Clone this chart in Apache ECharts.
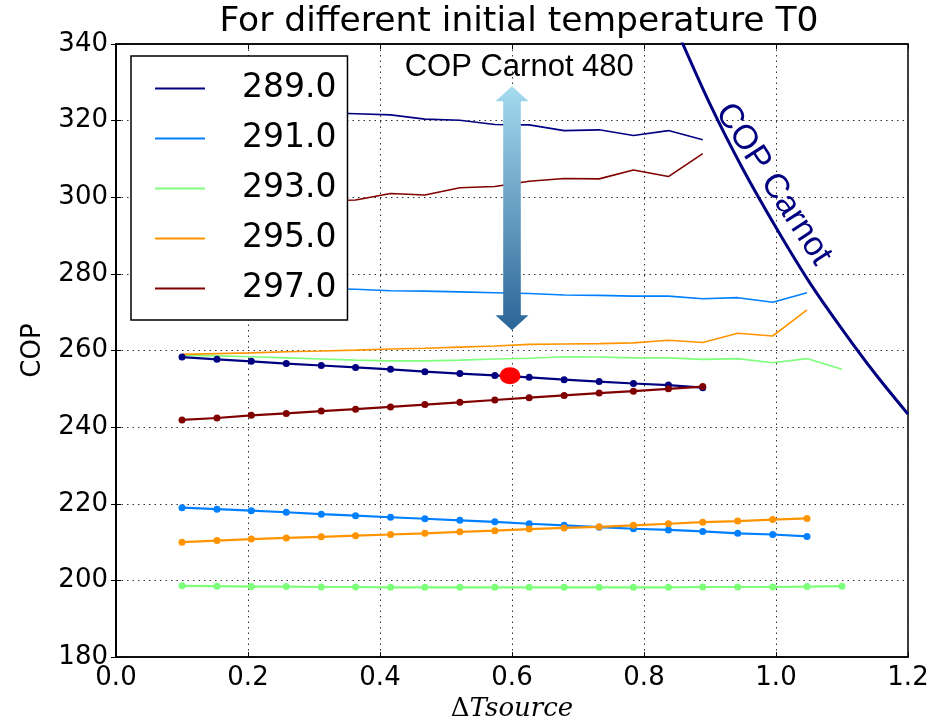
<!DOCTYPE html>
<html>
<head>
<meta charset="utf-8">
<script src="https://cdn.jsdelivr.net/npm/echarts@6/dist/echarts.min.js"></script>
<style>html,body{margin:0;padding:0;background:#fff}#c{width:943px;height:727px}</style>
</head>
<body>
<div id="c"></div>
<script>
// ---- data ----
const xs = [0.1, 0.153, 0.205, 0.258, 0.311, 0.363, 0.416, 0.468, 0.521, 0.574, 0.626, 0.679, 0.732, 0.784, 0.837, 0.889, 0.942, 0.995, 1.047, 1.1];
const seriesNames = ['289.0', '291.0', '293.0', '295.0', '297.0'];
const seriesColors = ['#000080', '#0080ff', '#7dff7a', '#ff9400', '#800000'];

// thin lines (no markers)
const thin289 = [323.2, 322.9, 322.6, 322.4, 322.1, 321.8, 321.5, 320.4, 320.1, 319.0, 318.9, 317.4, 317.6, 316.1, 317.4, 315.0];
const thin291 = [277.0, 276.8, 276.6, 276.4, 276.2, 276.0, 275.6, 275.5, 275.3, 275.1, 274.9, 274.5, 274.4, 274.2, 274.2, 273.5, 273.8, 272.6, 275.1];
const thin293 = [258.8, 258.6, 258.4, 258.1, 257.8, 257.5, 257.3, 257.3, 257.5, 257.8, 258.0, 258.4, 258.3, 258.1, 258.1, 257.7, 257.9, 256.8, 257.9, 255.1];
const thin295 = [259.0, 259.2, 259.4, 259.7, 259.9, 260.1, 260.4, 260.6, 260.9, 261.2, 261.6, 261.7, 261.8, 262.0, 262.7, 262.1, 264.5, 263.8, 270.6];
const thin297 = [297.6, 298.0, 298.4, 298.8, 299.1, 299.3, 301.0, 300.6, 302.5, 302.8, 304.2, 304.9, 304.8, 307.1, 305.4, 311.4];

// lines with markers
const mark289 = [258.3, 257.7, 257.2, 256.6, 256.1, 255.6, 255.1, 254.5, 254.0, 253.5, 253.0, 252.4, 251.9, 251.4, 251.0, 250.3];
const mark291 = [219.0, 218.6, 218.2, 217.8, 217.3, 216.9, 216.5, 216.1, 215.7, 215.3, 214.8, 214.4, 213.9, 213.5, 213.2, 212.8, 212.3, 212.0, 211.5];
const mark293 = [198.6, 198.5, 198.4, 198.4, 198.3, 198.3, 198.2, 198.2, 198.2, 198.2, 198.2, 198.2, 198.2, 198.2, 198.2, 198.3, 198.3, 198.3, 198.4, 198.5];
const mark295 = [210.0, 210.4, 210.8, 211.1, 211.4, 211.7, 212.0, 212.3, 212.7, 213.0, 213.4, 213.7, 214.0, 214.4, 214.8, 215.2, 215.5, 215.9, 216.2];
const mark297 = [241.9, 242.4, 243.1, 243.6, 244.2, 244.7, 245.3, 245.9, 246.5, 247.1, 247.7, 248.3, 248.9, 249.4, 250.0, 250.6];

// Carnot curve
const carnotX = [0.85, 0.9, 0.95, 1.0, 1.05, 1.1, 1.15, 1.2];
const carnotY = [343.5, 324.3, 307.3, 292.1, 278.0, 265.6, 254.0, 243.4];

// annotations
const redDot = [0.597, 253.4];
const arrowX = 0.6, arrowTop = 329.0, arrowBottom = 265.3;
const carnotLabelPos = [0.996, 303.4];
const topLabelPos = [0.611, 333.8];

const xTicks = {min: 0, max: 1.2, interval: 0.2};
const yTicks = {min: 180, max: 340, interval: 20};

// ---- build ----
const thin = [thin289, thin291, thin293, thin295, thin297];
const marked = [mark289, mark291, mark293, mark295, mark297];
const pair = arr => arr.map((v, i) => [xs[i], v]);

const series = [];
thin.forEach((arr, k) => {
  series.push({
    name: seriesNames[k], type: 'line', data: pair(arr), symbol: 'none',
    lineStyle: {width: 1.6, color: seriesColors[k]}, itemStyle: {color: seriesColors[k]}, z: 2
  });
});
marked.forEach((arr, k) => {
  series.push({
    name: 'm' + seriesNames[k], type: 'line', data: pair(arr), symbol: 'circle', symbolSize: 7,
    lineStyle: {width: 2.2, color: seriesColors[k]}, itemStyle: {color: seriesColors[k]}, z: 3
  });
});
series.push({
  name: 'carnot', type: 'line', data: carnotX.map((x, i) => [x, carnotY[i]]), symbol: 'none',
  smooth: 0.3, lineStyle: {width: 3, color: '#000080'}, z: 3, clip: true
});
series.push({
  name: 'arrow', type: 'custom', silent: true, z: 4,
  data: [[arrowX, arrowTop, arrowBottom]],
  encode: {x: 0, y: [1, 2]},
  renderItem: function (params, api) {
    const p1 = api.coord([api.value(0), api.value(1)]);
    const p2 = api.coord([api.value(0), api.value(2)]);
    const cx = p1[0], hs = 8.8, hh = 16.5, hl = 15;
    return {
      type: 'polygon',
      shape: {points: [[cx, p1[1]], [cx + hh, p1[1] + hl], [cx + hs, p1[1] + hl], [cx + hs, p2[1] - hl], [cx + hh, p2[1] - hl],
        [cx, p2[1]], [cx - hh, p2[1] - hl], [cx - hs, p2[1] - hl], [cx - hs, p1[1] + hl], [cx - hh, p1[1] + hl]]},
      style: {fill: new echarts.graphic.LinearGradient(0, 0, 0, 1, [{offset: 0, color: '#a6dbef'}, {offset: 1, color: '#2b6597'}])}
    };
  }
});
series.push({
  name: 'dot', type: 'scatter', data: [redDot], symbol: 'circle', symbolSize: [21, 17],
  itemStyle: {color: '#ff0000', opacity: 1}, z: 5, silent: true
});
series.push({
  name: 'carnotLabel', type: 'scatter', data: [carnotLabelPos], symbolSize: 0, silent: true, z: 5,
  itemStyle: {opacity: 1},
  label: {show: true, position: 'inside', formatter: 'COP Carnot', rotate: -57, fontSize: 34,
    fontFamily: 'Liberation Sans', color: '#000080', opacity: 1}
});
series.push({
  name: 'topLabel', type: 'scatter', data: [topLabelPos], symbolSize: 0, silent: true, z: 5,
  itemStyle: {opacity: 1},
  label: {show: true, position: 'inside', formatter: 'COP Carnot 480', fontSize: 31,
    fontFamily: 'Liberation Sans', color: '#000', opacity: 1}
});

const tickStyle = {inside: true, length: 5, lineStyle: {color: '#000', width: 1}};
const gridLine = {show: true, lineStyle: {type: [1.5, 4], color: '#333', width: 1}};
const labelFont = {fontSize: 26, fontFamily: 'DejaVu Sans', color: '#000'};

const option = {
  animation: false,
  backgroundColor: '#fff',
  title: {
    text: 'For different initial temperature T0', left: 514, top: 0, textAlign: 'center',
    textStyle: {fontFamily: 'DejaVu Sans', fontSize: 34.5, fontWeight: 'normal', color: '#000'}
  },
  grid: {left: 116, right: 35, top: 44, bottom: 65, show: true, borderColor: '#000', borderWidth: 1.5},
  legend: {
    data: seriesNames, orient: 'vertical', left: 131, top: 56, padding: [16, 11, 15, 24],
    itemGap: 17, itemWidth: 50, itemHeight: 2, icon: 'rect',
    backgroundColor: '#fff', borderColor: '#000', borderWidth: 1.5, borderRadius: 0,
    textStyle: {fontSize: 33, fontFamily: 'DejaVu Sans', color: '#000', padding: [0, 0, 0, 32], lineHeight: 33}
  },
  xAxis: [{
    type: 'value', min: xTicks.min, max: xTicks.max, interval: xTicks.interval,
    name: '{d|Δ}{t|Tsource}', nameLocation: 'middle', nameGap: 38,
    nameTextStyle: {rich: {d: {fontFamily: 'DejaVu Serif', fontSize: 26, color: '#000'},
      t: {fontFamily: 'DejaVu Serif', fontStyle: 'italic', fontSize: 26, color: '#000'}}},
    axisLine: {show: true, lineStyle: {color: '#000', width: 1.5}},
    axisTick: tickStyle,
    axisLabel: Object.assign({margin: 8, formatter: v => v.toFixed(1)}, labelFont),
    splitLine: gridLine
  }, {
    type: 'value', position: 'top', min: xTicks.min, max: xTicks.max, interval: xTicks.interval,
    axisLine: {show: true, lineStyle: {color: '#000', width: 1.5}},
    axisTick: tickStyle, axisLabel: {show: false}, splitLine: {show: false}
  }],
  yAxis: [{
    type: 'value', min: yTicks.min, max: yTicks.max, interval: yTicks.interval,
    name: 'COP', nameLocation: 'middle', nameGap: 70, nameRotate: 90,
    nameTextStyle: {fontFamily: 'DejaVu Sans', fontSize: 26, color: '#000'},
    axisLine: {show: true, lineStyle: {color: '#000', width: 1.5}},
    axisTick: tickStyle,
    axisLabel: Object.assign({margin: 8}, labelFont),
    splitLine: gridLine
  }, {
    type: 'value', position: 'right', min: yTicks.min, max: yTicks.max, interval: yTicks.interval,
    axisLine: {show: true, lineStyle: {color: '#000', width: 1.5}},
    axisTick: tickStyle, axisLabel: {show: false}, splitLine: {show: false}
  }],
  series: series
};

const chart = echarts.init(document.getElementById('c'), null, {renderer: 'canvas'});
chart.setOption(option);
</script>
</body>
</html>
